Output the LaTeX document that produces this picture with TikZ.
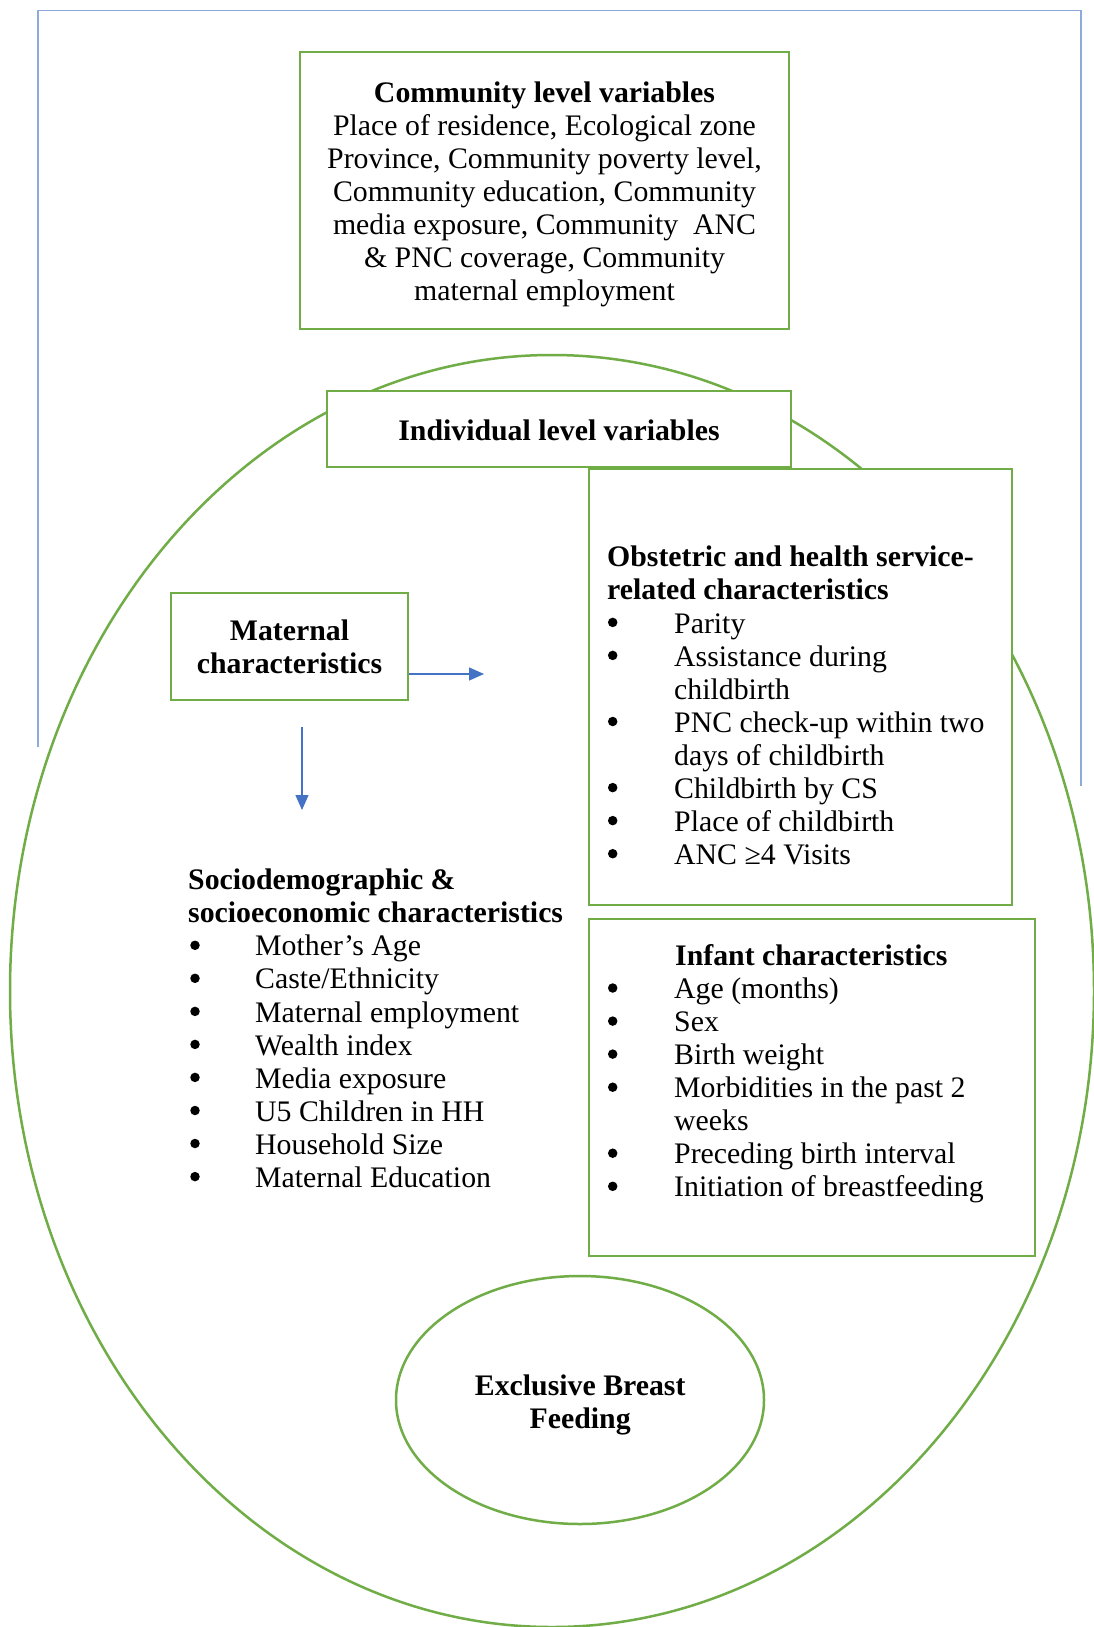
\documentclass[tikz,border=0pt]{standalone}
\usepackage{fontspec}
\setmainfont{Liberation Serif}
\usetikzlibrary{arrows.meta,shapes.geometric}
\definecolor{grn}{HTML}{70AD47}
\definecolor{blu}{HTML}{4472C4}
\definecolor{frameblu}{HTML}{8EAADB}
\begin{document}
\begin{tikzpicture}[x=1pt,y=-1pt,
  box/.style={draw=grn, line width=2.4pt, fill=white, inner sep=0pt},
  base/.style={inner sep=0pt, yshift=-8.3pt, font=\fontsize{29.8}{33}\selectfont},
  ctr/.style={base, anchor=mid},
  hd/.style={base, anchor=mid west, font=\fontsize{29.8}{33}\selectfont\bfseries},
  ctrhd/.style={base, anchor=mid, font=\fontsize{29.8}{33}\selectfont\bfseries},
  it/.style={base, anchor=mid west},
  bl/.style={circle, fill=black, inner sep=0pt, minimum size=9.5pt},
  arr/.style={draw=blu, line width=1.3pt, -{Triangle[length=15pt,width=13pt]}}
]
\useasboundingbox (0,0) rectangle (1094,1627);
\fill[white] (0,0) rectangle (1094,1627);

% outer blue frame
\draw[frameblu, line width=1.3pt] (38,747) -- (38,10.5) -- (1081,10.5) -- (1081,786);

% big ellipse
\draw[grn, line width=2.5pt] (552,991) ellipse [x radius=542, y radius=636];

% community box
\node[box, minimum width=489pt, minimum height=277pt] (comm) at (544.5,190.5) {};
\node[ctrhd] (c0) at (544.5,91.5) {Community level variables};
\foreach \y/\t [count=\k] in {124.5/{Place of residence, Ecological zone},
  157.5/{Province, Community poverty level,},
  190.6/{Community education, Community},
  223.6/{media exposure, Community~ ANC},
  256.7/{\& PNC coverage, Community},
  289.7/{maternal employment}}
  {\node[ctr, name=c\k] at (544.5,\y) {\t};}

% individual box
\node[box, minimum width=464pt, minimum height=76pt] (indiv) at (559,429) {};
\node[ctrhd] (indt) at (559,429.7) {Individual level variables};

% maternal box
\node[box, minimum width=237pt, minimum height=107pt] (mat) at (289.5,646.5) {};
\node[ctrhd] (mat1) at (289.5,630) {Maternal};
\node[ctrhd] (mat2) at (289.5,663.3) {characteristics};

% arrows
\coordinate (ar1) at (484,674);
\draw[arr] (mat.east |- ar1) -- (ar1);
\coordinate (ad0) at (302,727);
\coordinate (ad1) at (302,810);
\draw[arr] (ad0) -- (ad1);

% obstetric box
\node[box, minimum width=423pt, minimum height=436pt] (obst) at (800.5,687) {};
\node[hd] (o1) at (607,556.3) {Obstetric and health service-};
\node[hd] (o2) at (607,589.3) {related characteristics};
\foreach \y [count=\k] in {622.4,655.4,721.5,787.6,820.6,853.7}
  {\node[bl, name=ob\k] at (612.7,\y) {};}
\foreach \y/\t [count=\k] in {622.4/Parity, 655.4/Assistance during, 688.5/childbirth,
  721.5/PNC check-up within two, 754.5/days of childbirth, 787.6/Childbirth by CS,
  820.6/Place of childbirth, 853.7/ANC ≥4 Visits}
  {\node[it, name=ot\k] at (674,\y) {\t};}

% sociodemographic
\node[hd] (s1) at (188,879.2) {Sociodemographic \&};
\node[hd] (s2) at (188,912.2) {socioeconomic characteristics};
\foreach \y/\t [count=\k] in {945.3/Mother’s Age, 978.3/{Caste/Ethnicity},
  1011.4/Maternal employment, 1044.4/Wealth index, 1077.4/Media exposure,
  1110.5/U5 Children in HH, 1143.5/Household Size, 1176.6/Maternal Education}
  {\node[bl, name=sb\k] at (195,\y) {};
   \node[it, name=st\k] at (255,\y) {\t};}

% infant box
\node[box, minimum width=446pt, minimum height=337pt] (inf) at (812,1087.5) {};
\node[hd] (i0) at (675,955) {Infant characteristics};
\foreach \y [count=\k] in {988,1021.1,1054.1,1087.2,1153.2,1186.3}
  {\node[bl, name=ib\k] at (612.7,\y) {};}
\foreach \y/\t [count=\k] in {988/Age (months), 1021.1/Sex, 1054.1/Birth weight,
  1087.2/Morbidities in the past 2, 1120.2/weeks, 1153.2/Preceding birth interval,
  1186.3/Initiation of breastfeeding}
  {\node[it, name=it\k] at (674,\y) {\t};}

% outcome ellipse
\node[ellipse, draw=grn, line width=2.5pt, minimum width=368pt, minimum height=248pt, inner sep=0pt] (ebf) at (580,1400) {};
\node[ctrhd] (e1) at (580.2,1384.6) {Exclusive Breast};
\node[ctrhd] (e2) at (580.2,1417.9) {Feeding};
\end{tikzpicture}
\end{document}
